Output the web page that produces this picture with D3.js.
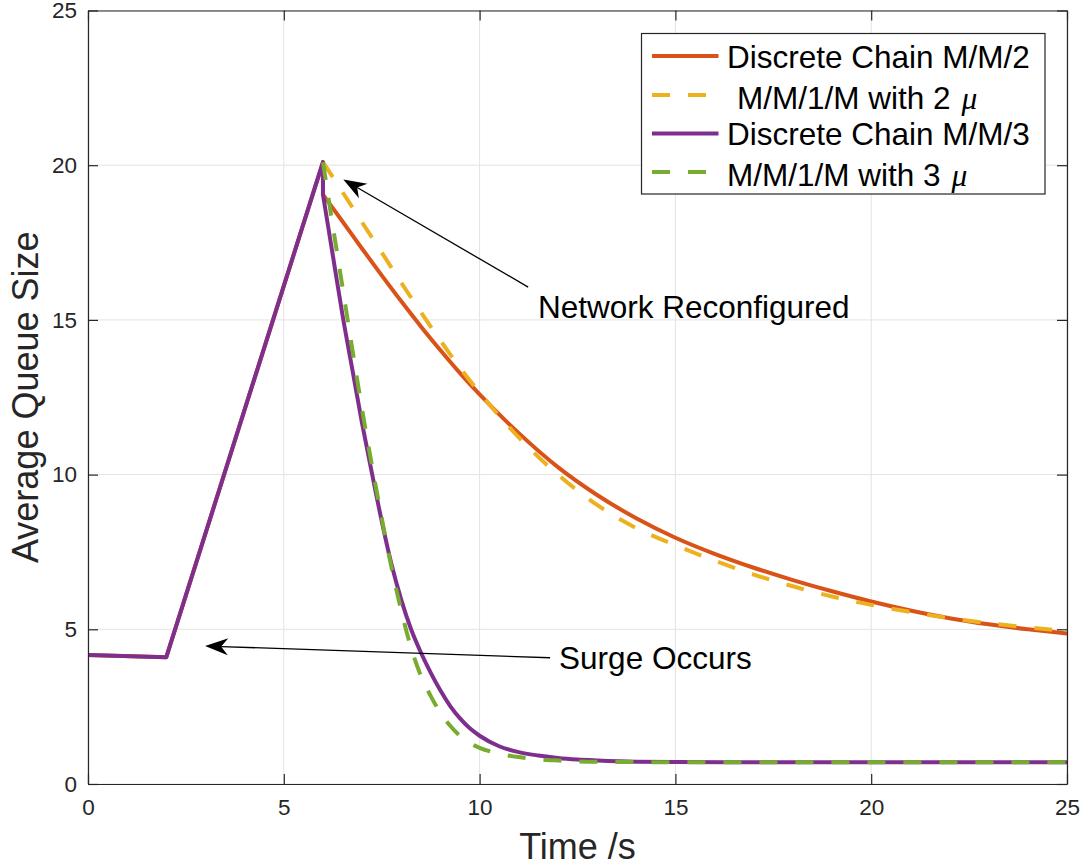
<!DOCTYPE html>
<html>
<head>
<meta charset="utf-8">
<script src="https://cdn.jsdelivr.net/npm/d3@7"></script>
<style>
  body { margin: 0; background: #fff; }
  svg { display: block; font-family: "Liberation Sans", Arial, Helvetica, sans-serif; }
</style>
</head>
<body>
<svg id="chart" width="1083" height="867"></svg>
<script>
// ---- data ----
const surgeTime = [0, 2, 6];
const surgeQueue = [4.17, 4.1, 20.1];

// two-server system (M/M/2 chain vs M/M/1/M with 2 mu)
const slowTime = [6, 6.5, 7, 7.5, 8, 8.5, 9, 9.5, 10, 11, 12, 13, 14, 15, 16, 17, 18, 19, 20, 21, 22, 23, 24, 25];
const chainM2 = [19.05, 18.18, 17.3, 16.44, 15.6, 14.79, 14.02, 13.28, 12.59, 11.34, 10.24, 9.34, 8.59, 7.96, 7.44, 6.99, 6.59, 6.23, 5.9, 5.61, 5.36, 5.16, 5.0, 4.86];
const approxM2 = [20.1, 19.13, 18.15, 17.18, 16.2, 15.25, 14.33, 13.45, 12.65, 11.2, 10.0, 9.02, 8.27, 7.72, 7.22, 6.77, 6.39, 6.06, 5.79, 5.56, 5.36, 5.2, 5.06, 4.94];

// three-server system (M/M/3 chain vs M/M/1/M with 3 mu)
const fastTime = [6, 6.25, 6.5, 6.75, 7, 7.25, 7.5, 7.75, 8, 8.25, 8.5, 8.75, 9, 9.25, 9.5, 9.75, 10, 10.5, 11, 11.5, 12, 12.5, 13, 14, 15, 17, 19, 21, 23, 25];
const chainM3 = [19.05, 17.1, 15.15, 13.4, 11.65, 10.05, 8.5, 7.1, 5.95, 5.0, 4.25, 3.6, 3.02, 2.52, 2.12, 1.8, 1.56, 1.22, 1.03, 0.92, 0.84, 0.79, 0.76, 0.72, 0.71, 0.7, 0.7, 0.7, 0.7, 0.7];
const approxM3 = [20.1, 18.05, 16.05, 14.05, 12.1, 10.3, 8.6, 7.0, 5.6, 4.4, 3.5, 2.85, 2.3, 1.88, 1.55, 1.32, 1.17, 0.98, 0.87, 0.8, 0.76, 0.73, 0.72, 0.71, 0.7, 0.7, 0.7, 0.7, 0.7, 0.7];

const xTicks = [0, 5, 10, 15, 20, 25];
const yTicks = [0, 5, 10, 15, 20, 25];
const seriesNames = ["Discrete Chain M/M/2", "M/M/1/M with 2", "Discrete Chain M/M/3", "M/M/1/M with 3"];

// ---- drawing ----
const svg = d3.select("#chart");
const x = d3.scaleLinear().domain([0, 25]).range([88, 1067]);
const y = d3.scaleLinear().domain([0, 25]).range([784, 10.5]);

const zip = (ts, vs) => ts.map((t, i) => [t, vs[i]]);

svg.append("rect").attr("width", 1083).attr("height", 867).attr("fill", "#fff");

svg.append("defs").append("clipPath").attr("id", "plot-clip")
    .append("rect")
    .attr("x", x(0)).attr("y", y(25))
    .attr("width", x(25) - x(0)).attr("height", y(0) - y(25));

// grid
const grid = svg.append("g").attr("class", "grid");
grid.selectAll(".vgrid").data(xTicks).enter().append("line")
    .attr("x1", d => x(d)).attr("x2", d => x(d))
    .attr("y1", y(0)).attr("y2", y(25))
    .attr("stroke", "#e3e3e3").attr("stroke-width", 1);
grid.selectAll(".hgrid").data(yTicks).enter().append("line")
    .attr("x1", x(0)).attr("x2", x(25))
    .attr("y1", d => y(d)).attr("y2", d => y(d))
    .attr("stroke", "#e3e3e3").attr("stroke-width", 1);

const linear = d3.line().x(d => x(d[0])).y(d => y(d[1]));
const smooth = d3.line().x(d => x(d[0])).y(d => y(d[1])).curve(d3.curveMonotoneX);

// solid chain curves: linear surge ramp + drop, then smooth decay
function chainPath(decayTime, decayVals) {
    const ramp = zip(surgeTime, surgeQueue).concat([[decayTime[0], decayVals[0]]]);
    return linear(ramp) + smooth(zip(decayTime, decayVals));
}

const series = [
    { name: seriesNames[0], color: "#D95319", dashed: false, path: chainPath(slowTime, chainM2) },
    { name: seriesNames[1], color: "#EDB120", dashed: true, path: smooth(zip(slowTime, approxM2)) },
    { name: seriesNames[2], color: "#7E2F8E", dashed: false, path: chainPath(fastTime, chainM3) },
    { name: seriesNames[3], color: "#77AC30", dashed: true, path: smooth(zip(fastTime, approxM3)) }
];

svg.append("g").attr("clip-path", "url(#plot-clip)")
    .selectAll("path").data(series).enter().append("path")
    .attr("d", d => d.path)
    .attr("fill", "none")
    .attr("stroke", d => d.color)
    .attr("stroke-width", 4)
    .attr("stroke-linejoin", "round")
    .attr("stroke-linecap", d => d.dashed ? "butt" : "round")
    .attr("stroke-dasharray", d => d.dashed ? "18,18" : null);

// axes (box with inward ticks on all sides)
const axisColor = "#262626";
function styleAxis(g) {
    g.select(".domain").attr("stroke", axisColor).attr("stroke-width", 1.2);
    g.selectAll(".tick line").attr("stroke", axisColor).attr("stroke-width", 1.2);
    g.selectAll(".tick text").attr("fill", axisColor).style("font-size", "22.5px")
        .style("font-family", "'Liberation Sans', Arial, sans-serif");
}
svg.append("g").attr("transform", `translate(0,${y(0)})`)
    .call(d3.axisBottom(x).tickValues(xTicks).tickSizeInner(-10).tickSizeOuter(0).tickPadding(15))
    .call(styleAxis);
svg.append("g").attr("transform", `translate(${x(0)},0)`)
    .call(d3.axisLeft(y).tickValues(yTicks).tickSizeInner(-10).tickSizeOuter(0).tickPadding(11))
    .call(styleAxis);
svg.append("g").attr("transform", `translate(0,${y(25)})`)
    .call(d3.axisTop(x).tickValues(xTicks).tickSizeInner(-10).tickSizeOuter(0).tickFormat(""))
    .call(styleAxis);
svg.append("g").attr("transform", `translate(${x(25)},0)`)
    .call(d3.axisRight(y).tickValues(yTicks).tickSizeInner(-10).tickSizeOuter(0).tickFormat(""))
    .call(styleAxis);

// axis labels
svg.append("text")
    .attr("x", (x(0) + x(25)) / 2).attr("y", 859)
    .attr("text-anchor", "middle")
    .attr("fill", axisColor)
    .style("font-size", "36px")
    .text("Time /s");
svg.append("text")
    .attr("transform", `translate(38,${(y(0) + y(25)) / 2}) rotate(-90)`)
    .attr("text-anchor", "middle")
    .attr("fill", axisColor)
    .style("font-size", "36px")
    .text("Average Queue Size");

// annotations: arrow from the label towards the event
const annotations = [
    { text: "Network Reconfigured", tail: [11.24, 16.06], tip: [6.52, 19.54], at: [11.49, 15.06] },
    { text: "Surge Occurs", tail: [11.8, 4.08], tip: [2.99, 4.46], at: [12.03, 3.72] }
];
const ann = svg.append("g").attr("class", "annotations");
annotations.forEach(a => {
    const tx = x(a.tip[0]), ty = y(a.tip[1]);
    const sx = x(a.tail[0]), sy = y(a.tail[1]);
    const ang = Math.atan2(sy - ty, sx - tx);
    const ux = Math.cos(ang), uy = Math.sin(ang);
    const len = 23, half = 8.5, notch = 16;
    const bx = tx + ux * len, by = ty + uy * len;
    const nx = tx + ux * notch, ny = ty + uy * notch;
    ann.append("line")
        .attr("x1", sx).attr("y1", sy).attr("x2", nx).attr("y2", ny)
        .attr("stroke", "#000").attr("stroke-width", 1.3);
    ann.append("path")
        .attr("d", `M${tx},${ty}L${bx - uy * half},${by + ux * half}L${nx},${ny}L${bx + uy * half},${by - ux * half}Z`)
        .attr("fill", "#000");
    ann.append("text")
        .attr("x", x(a.at[0])).attr("y", y(a.at[1]))
        .attr("fill", "#000")
        .style("font-size", "31.5px")
        .text(a.text);
});

// legend
const legend = svg.append("g").attr("class", "legend");
legend.append("rect")
    .attr("x", 641.5).attr("y", 33.5).attr("width", 403.5).attr("height", 160.5)
    .attr("fill", "#fff").attr("stroke", axisColor).attr("stroke-width", 1.2);
const rowLine = [56, 95, 133.5, 172];
const rowText = [68, 109, 145, 186];
const rowIndent = [0, 10, 0, 0];
series.forEach((s, i) => {
    legend.append("line")
        .attr("x1", 652).attr("x2", 718.5)
        .attr("y1", rowLine[i]).attr("y2", rowLine[i])
        .attr("stroke", s.color).attr("stroke-width", 4)
        .attr("stroke-dasharray", s.dashed ? "18,18" : null);
    const t = legend.append("text")
        .attr("x", 727 + rowIndent[i]).attr("y", rowText[i])
        .attr("fill", "#000")
        .style("font-size", "31.5px")
        .text(s.name);
    if (s.dashed) {
        t.append("tspan")
            .attr("dx", 11)
            .style("font-family", "'Liberation Serif', 'DejaVu Serif', serif")
            .style("font-style", "italic")
            .style("font-size", "31.5px")
            .text("\u03bc");
    }
});
</script>
</body>
</html>
